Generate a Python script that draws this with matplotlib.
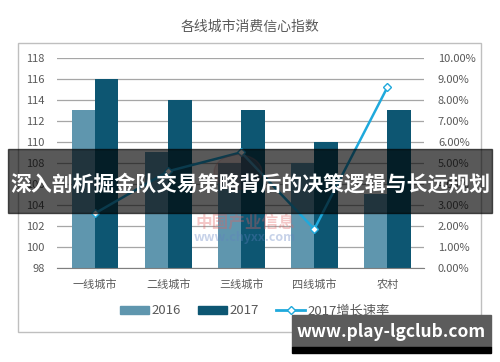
import numpy as np
import matplotlib
matplotlib.use('Agg')
import matplotlib.pyplot as plt
from matplotlib.patches import Rectangle, Circle
from matplotlib.lines import Line2D

plt.rcParams['font.family'] = ['Noto Sans CJK SC', 'DejaVu Sans']

categories = ['一线城市', '二线城市', '三线城市', '四线城市', '农村']
index_2016 = [113, 109, 108, 108, 105]
index_2017 = [116, 114, 113, 110, 113]
growth_2017 = [2.6, 4.6, 5.5, 1.85, 8.6]   # percent

c2016 = '#5f96ae'
c2017 = '#0d5672'
cline = '#1fa9dc'
grid_c = '#a6a6a6'
text_c = '#595959'

fig = plt.figure(figsize=(5, 3.62), dpi=100)
W, H = 500, 362

# outer frame
fig.patches.append(Rectangle((18 / W, 1 - 332 / H), (481 - 18) / W, (332 - 43) / H,
                             transform=fig.transFigure, fill=False, ec='#bfbfbf', lw=1))
fig.text(0.5, 1 - 27 / H, '各线城市消费信心指数', ha='center', va='center',
         fontsize=10, color=text_c)

ax = fig.add_axes([57 / W, 1 - 268 / H, (424 - 57) / W, (268 - 57.7) / H])
x = np.arange(len(categories))
bw = 0.32
ax.bar(x - bw / 2, index_2016, bw, color=c2016, zorder=2)
ax.bar(x + bw / 2, index_2017, bw, color=c2017, zorder=2)
ax.set_ylim(98, 118)
ax.set_xlim(-0.52, 4.5)
ax.set_yticks(np.arange(98, 119, 2))
ax.yaxis.grid(True, color=grid_c, lw=0.9, zorder=0)
for s in ['top', 'right', 'left']:
    ax.spines[s].set_visible(False)
ax.spines['bottom'].set_color('#7f7f7f')
ax.tick_params(axis='y', length=0, pad=9, labelsize=8, labelcolor=text_c)
ax.tick_params(axis='x', length=0, pad=8, labelsize=8, labelcolor=text_c)
ax.set_xticks(x)
ax.set_xticklabels(categories)

ax2 = ax.twinx()
ax2.set_ylim(0, 10)
ax2.set_yticks(np.arange(0, 11, 1))
ax2.set_yticklabels([f'{v:.2f}%' for v in np.arange(0, 11, 1)])
ax2.plot(x, growth_2017, color=cline, lw=1.8, marker='D', ms=4.5,
         mfc='white', mec=cline, mew=1, zorder=3)
for s in ['top', 'right', 'left', 'bottom']:
    ax2.spines[s].set_visible(False)
ax2.tick_params(axis='y', length=0, pad=10, labelsize=8, labelcolor=text_c)

handles = [Rectangle((0, 0), 1, 1, color=c2016),
           Rectangle((0, 0), 1, 1, color=c2017),
           Line2D([], [], color=cline, lw=2, marker='D', ms=4, mfc='white', mec=cline)]
fig.legend(handles, ['2016', '2017', '2017增长速率'], loc='center',
           bbox_to_anchor=(0.51, 1 - 311 / H), ncol=3, frameon=False,
           fontsize=9.5, handlelength=2.2, handleheight=0.5, columnspacing=1.3,
           handletextpad=0.2, labelcolor=text_c)

# faint watermark
fig.patches.append(Circle((238 / W, 1 - 172 / H), 24 / W, transform=fig.transFigure,
                          color='#d98080', alpha=0.25, zorder=4))
fig.text(245 / W, 1 - 222 / H, '中国产业信息', ha='center', va='center', fontsize=12,
         color='#e06060', alpha=0.35, weight='bold', zorder=5)
fig.text(245 / W, 1 - 238 / H, 'www.chyxx.com', ha='center', va='center', fontsize=9,
         color='#6080c0', alpha=0.35, weight='bold', zorder=5)

# overlay banner
fig.patches.append(Rectangle((8 / W, 1 - 213 / H), (492 - 8) / W, (213 - 149) / H,
                             transform=fig.transFigure, color='black', alpha=0.65, zorder=10))
fig.text(250 / W, 1 - 184 / H, '深入剖析掘金队交易策略背后的决策逻辑与长远规划',
         ha='center', va='center', fontsize=15, color='white', weight='bold', zorder=11)

# bottom-right site banner
fig.patches.append(Rectangle((292 / W, 1 - 347 / H), (491 - 292) / W, (347 - 315) / H,
                             transform=fig.transFigure, color='#5c5c5c', zorder=10))
fig.patches.append(Rectangle((292 / W, 1 - 353 / H), (491 - 292) / W, 6 / H,
                             transform=fig.transFigure, color='black', zorder=10))
fig.text(391 / W, 1 - 332 / H, 'www.play-lgclub.com', ha='center', va='center',
         fontsize=12.5, color='white', weight='bold', zorder=11)

fig.savefig('out.png', dpi=100)
